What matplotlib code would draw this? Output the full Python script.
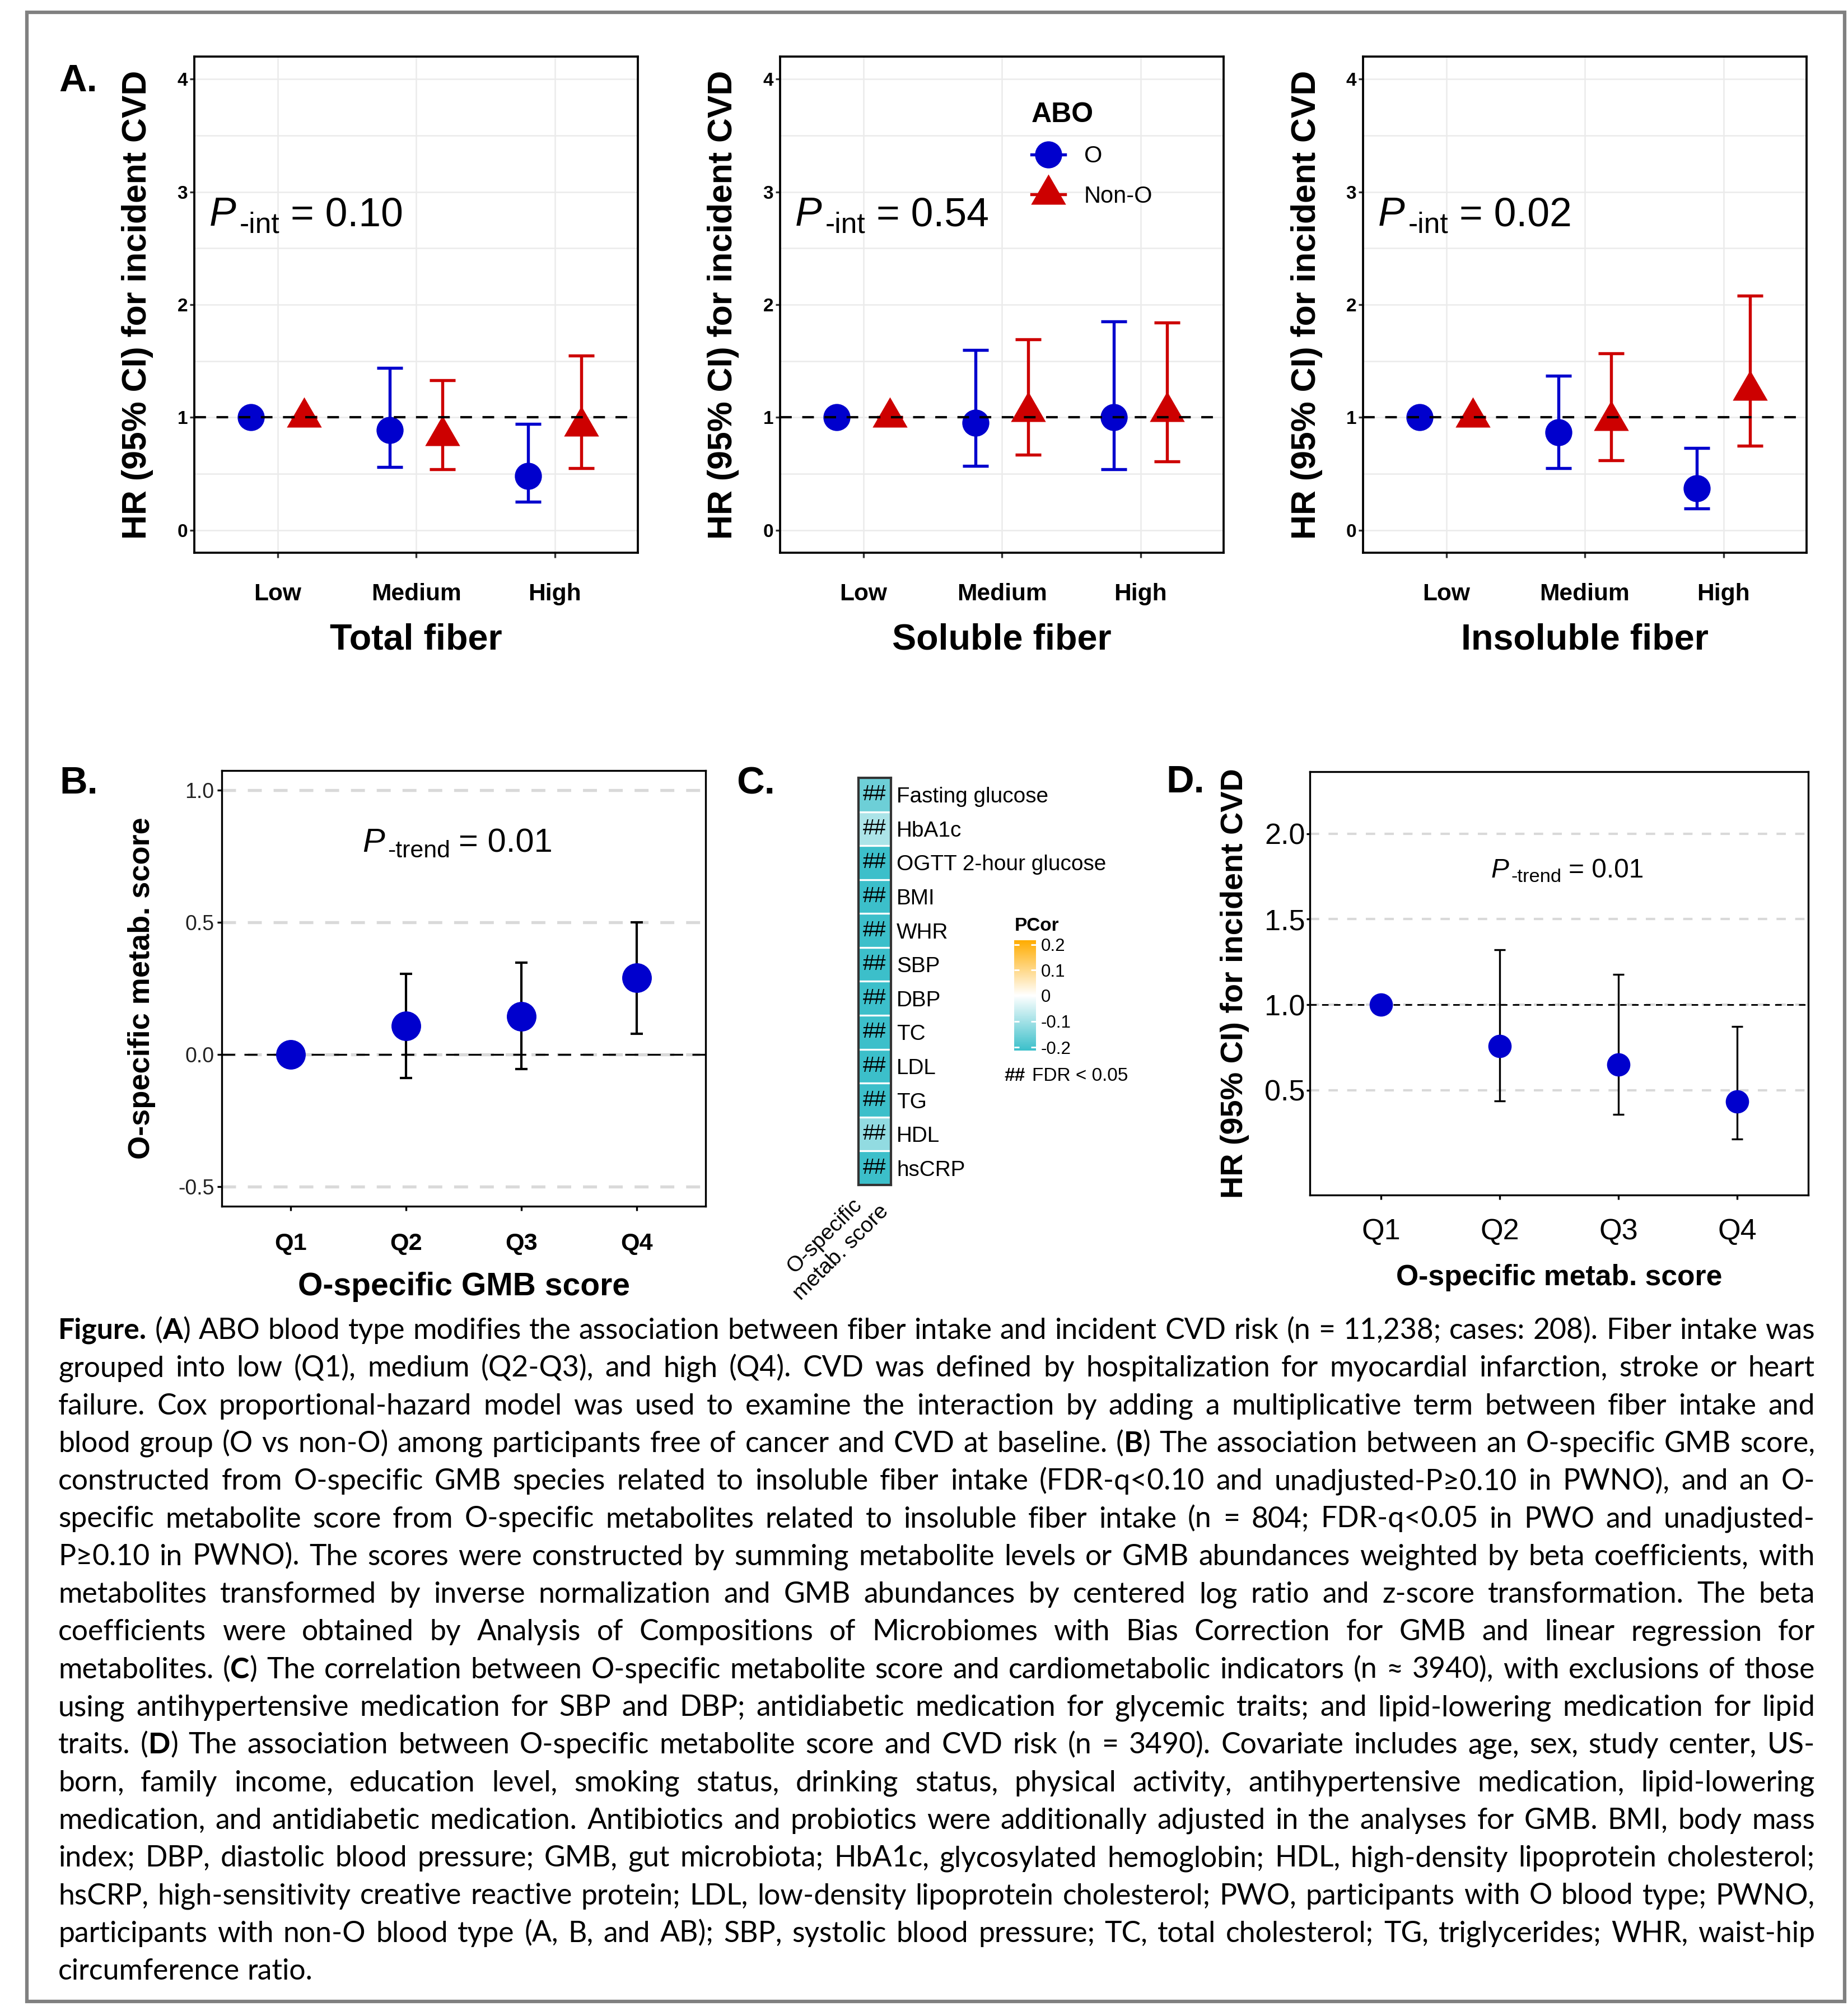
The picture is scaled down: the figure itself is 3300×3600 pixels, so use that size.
import numpy as np
import matplotlib
matplotlib.use('Agg')
import matplotlib.pyplot as plt
from matplotlib.lines import Line2D
from matplotlib.path import Path
from matplotlib.colors import LinearSegmentedColormap, TwoSlopeNorm
from matplotlib.transforms import ScaledTranslation
import matplotlib.patches as mpatches

# ---------------- data ----------------
fiber_levels = ['Low', 'Medium', 'High']
fiber_names = ['Total fiber', 'Soluble fiber', 'Insoluble fiber']
p_int = ['0.10', '0.54', '0.02']

# HR (lower, upper) for blood type O
total_O = [1.00, 0.89, 0.48]
total_O_lo = [1.00, 0.56, 0.25]
total_O_hi = [1.00, 1.44, 0.94]
soluble_O = [1.00, 0.95, 1.00]
soluble_O_lo = [1.00, 0.57, 0.54]
soluble_O_hi = [1.00, 1.60, 1.85]
insoluble_O = [1.00, 0.87, 0.37]
insoluble_O_lo = [1.00, 0.55, 0.19]
insoluble_O_hi = [1.00, 1.37, 0.73]

# HR (lower, upper) for non-O
total_N = [1.00, 0.84, 0.92]
total_N_lo = [1.00, 0.54, 0.55]
total_N_hi = [1.00, 1.33, 1.55]
soluble_N = [1.00, 1.05, 1.05]
soluble_N_lo = [1.00, 0.67, 0.61]
soluble_N_hi = [1.00, 1.69, 1.84]
insoluble_N = [1.00, 0.97, 1.24]
insoluble_N_lo = [1.00, 0.62, 0.75]
insoluble_N_hi = [1.00, 1.57, 2.08]

quartiles = ['Q1', 'Q2', 'Q3', 'Q4']
gmb_est = [0.0, 0.108, 0.144, 0.290]
gmb_lo = [0.0, -0.089, -0.056, 0.078]
gmb_hi = [0.0, 0.306, 0.347, 0.500]

metab_hr = [1.0, 0.758, 0.649, 0.435]
metab_lo = [1.0, 0.438, 0.360, 0.216]
metab_hi = [1.0, 1.320, 1.176, 0.872]

indicators = ['Fasting glucose', 'HbA1c', 'OGTT 2-hour glucose', 'BMI', 'WHR', 'SBP',
              'DBP', 'TC', 'LDL', 'TG', 'HDL', 'hsCRP']
pcor = [-0.157, -0.088, -0.21, -0.21, -0.21, -0.21, -0.21, -0.21, -0.21, -0.21, -0.117, -0.21]
pcor_ticks = [-0.2, -0.1, 0, 0.1, 0.2]
pcor_ticklabels = ['-0.2', '-0.1', '0', '0.1', '0.2']

caption_lines = [
    "*Figure.* (*A*) ABO blood type modifies the association between fiber intake and incident CVD risk (n = 11,238; cases: 208). Fiber intake was",
    "grouped into low (Q1), medium (Q2-Q3), and high (Q4). CVD was defined by hospitalization for myocardial infarction, stroke or heart",
    "failure. Cox proportional-hazard model was used to examine the interaction by adding a multiplicative term between fiber intake and",
    "blood group (O vs non-O) among participants free of cancer and CVD at baseline. (*B*) The association between an O-specific GMB score,",
    "constructed from O-specific GMB species related to insoluble fiber intake (FDR-q<0.10 and unadjusted-P\u22650.10 in PWNO), and an O-",
    "specific metabolite score from O-specific metabolites related to insoluble fiber intake (n = 804; FDR-q<0.05 in PWO and unadjusted-",
    "P\u22650.10 in PWNO). The scores were constructed by summing metabolite levels or GMB abundances weighted by beta coefficients, with",
    "metabolites transformed by inverse normalization and GMB abundances by centered log ratio and z-score transformation. The beta",
    "coefficients were obtained by Analysis of Compositions of Microbiomes with Bias Correction for GMB and linear regression for",
    "metabolites. (*C*) The correlation between O-specific metabolite score and cardiometabolic indicators (n \u2248 3940), with exclusions of those",
    "using antihypertensive medication for SBP and DBP; antidiabetic medication for glycemic traits; and lipid-lowering medication for lipid",
    "traits. (*D*) The association between O-specific metabolite score and CVD risk (n = 3490). Covariate includes age, sex, study center, US-",
    "born, family income, education level, smoking status, drinking status, physical activity, antihypertensive medication, lipid-lowering",
    "medication, and antidiabetic medication. Antibiotics and probiotics were additionally adjusted in the analyses for GMB. BMI, body mass",
    "index; DBP, diastolic blood pressure; GMB, gut microbiota; HbA1c, glycosylated hemoglobin; HDL, high-density lipoprotein cholesterol;",
    "hsCRP, high-sensitivity creative reactive protein; LDL, low-density lipoprotein cholesterol; PWO, participants with O blood type; PWNO,",
    "participants with non-O blood type (A, B, and AB); SBP, systolic blood pressure; TC, total cholesterol; TG, triglycerides; WHR, waist-hip",
    "circumference ratio.",
]

# ---------------- style ----------------
W, H, DPI = 3300, 3600, 300
BLUE = '#0000CD'
RED = '#CD0000'
plt.rcParams['font.family'] = ['Liberation Sans', 'DejaVu Sans']
CAP_FONT = ['Lato', 'DejaVu Sans']


def fy(y):
    return 1 - y / H


def rect(l, t, r, b):
    return [l / W, 1 - b / H, (r - l) / W, (b - t) / H]


# R style filled triangle (pch 17), centred on its centroid
tri = Path([(0, 1), (-0.866, -0.5), (0.866, -0.5), (0, 1)],
           [Path.MOVETO, Path.LINETO, Path.LINETO, Path.CLOSEPOLY])

fig = plt.figure(figsize=(W / DPI, H / DPI), dpi=DPI)
renderer = fig.canvas.get_renderer()


def p_label(ax, x, y, sub, val, size):
    # italic P, hyphenated subscript, then "= value"
    t = ax.text(x, y, 'P', fontsize=size, style='italic', ha='left', va='baseline',
                transform=ax.transAxes)
    w1 = t.get_window_extent(renderer).width * 72 / DPI
    x2 = w1 + 0.09 * size
    s = ax.annotate(sub, (x, y), xycoords='axes fraction', xytext=(x2, -0.17 * size),
                    textcoords='offset points', fontsize=0.72 * size, ha='left', va='baseline')
    w2 = s.get_window_extent(renderer).width * 72 / DPI
    ax.annotate('= ' + val, (x, y), xycoords='axes fraction', xytext=(x2 + w2 + 0.26 * size, 0),
                textcoords='offset points', fontsize=size, ha='left', va='baseline')


# outer frame
fig.add_artist(mpatches.Rectangle((48 / W, fy(3574)), (3294 - 48) / W, (3574 - 22) / H,
                                  transform=fig.transFigure, fill=False, ec='#808080', lw=1.5))

# ---------------- panel A ----------------
panelA = [
    (total_O, total_O_lo, total_O_hi, total_N, total_N_lo, total_N_hi),
    (soluble_O, soluble_O_lo, soluble_O_hi, soluble_N, soluble_N_lo, soluble_N_hi),
    (insoluble_O, insoluble_O_lo, insoluble_O_hi, insoluble_N, insoluble_N_lo, insoluble_N_hi),
]
a_lefts = [347, 1393, 2434]
a_width = 792
dodge = 0.19
axA = []
for k, (o, olo, ohi, n, nlo, nhi) in enumerate(panelA):
    l = a_lefts[k]
    ax = fig.add_axes(rect(l, 101, l + a_width, 987))
    x = np.arange(1, len(fiber_levels) + 1)
    ax.errorbar(x - dodge, o, yerr=[np.subtract(o, olo), np.subtract(ohi, o)], fmt='none',
                ecolor=BLUE, elinewidth=1.3, capsize=5.5, capthick=1.3, zorder=3)
    ax.errorbar(x + dodge, n, yerr=[np.subtract(n, nlo), np.subtract(nhi, n)], fmt='none',
                ecolor=RED, elinewidth=1.3, capsize=5.5, capthick=1.3, zorder=3)
    ax.plot(x - dodge, o, ls='none', marker='o', ms=11.6, color=BLUE, mec='none', zorder=4)
    ax.plot(x + dodge, n, ls='none', marker=tri, ms=17.3, color=RED, mec='none', zorder=4)
    ax.axhline(1, color='black', lw=1.0, ls=(0, (5, 4.5)), zorder=5)
    ax.set_xlim(0.4, 3.6)
    ax.set_ylim(-0.2, 4.2)
    ax.set_xticks(x)
    ax.set_xticklabels(fiber_levels, fontweight='bold', fontsize=10.2)
    ax.set_yticks([0, 1, 2, 3, 4])
    ax.set_yticklabels(['0', '1', '2', '3', '4'], fontweight='bold', fontsize=8)
    ax.set_yticks([0.5, 1.5, 2.5, 3.5], minor=True)
    ax.grid(which='both', color='#EBEBEB', lw=0.6)
    ax.set_axisbelow(True)
    ax.tick_params(which='minor', length=0)
    ax.tick_params(axis='x', length=2.2, width=0.8, color='#333333', pad=10.7)
    ax.tick_params(axis='y', length=2, width=0.8, color='#333333', pad=0.8)
    for s in ax.spines.values():
        s.set_linewidth(0.9)
    p_label(ax, 0.034, 0.659, '-int', p_int[k], 17.2)
    fig.text((l + a_width / 2) / W, fy(1143), fiber_names[k], fontsize=15.5,
             fontweight='bold', ha='center', va='center')
    fig.text((l - 101) / W, fy(544), 'HR (95% CI) for incident CVD', fontsize=14.6,
             fontweight='bold', rotation=90, ha='center', va='center')
    axA.append(ax)

handles = [Line2D([], [], color=BLUE, marker='o', ms=11.6, lw=1.3, mec='none'),
           Line2D([], [], color=RED, marker=tri, ms=17.3, lw=1.3, mec='none')]
axA[1].legend(handles, ['O', 'Non-O'], title='ABO', loc='upper left',
              bbox_to_anchor=(1842 / W, fy(182)), bbox_transform=fig.transFigure,
              frameon=False, fontsize=10, title_fontproperties={'weight': 'bold', 'size': 12},
              alignment='left', handlelength=1.45, handletextpad=0.8, labelspacing=0.75,
              borderpad=0, borderaxespad=0)

# ---------------- panel B ----------------
axB = fig.add_axes(rect(396, 1376, 1260, 2154))
xq = np.arange(1, len(quartiles) + 1)
axB.errorbar(xq, gmb_est, yerr=[np.subtract(gmb_est, gmb_lo), np.subtract(gmb_hi, gmb_est)],
             fmt='none', ecolor='black', elinewidth=1.0, capsize=2.6, capthick=1.0, zorder=3)
axB.plot(xq, gmb_est, ls='none', marker='o', ms=12.7, color=BLUE, mec='none', zorder=4)
axB.axhline(0, color='black', lw=0.8, ls=(0, (7, 5)), zorder=2)
axB.set_xlim(0.4, 4.6)
axB.set_ylim(-0.575, 1.075)
axB.set_xticks(xq)
axB.set_xticklabels(quartiles, fontweight='bold', fontsize=10.4)
axB.set_yticks([-0.5, 0.0, 0.5, 1.0])
axB.set_yticklabels(['-0.5', '0.0', '0.5', '1.0'], fontsize=9, color='#222222')
axB.grid(axis='y', color='#D9D9D9', lw=1.3, ls=(0, (4.6, 3.9)))
axB.set_axisbelow(True)
axB.tick_params(axis='x', length=2, width=0.8, pad=9.2)
axB.tick_params(axis='y', length=2, width=0.8, pad=1.2)
for s in axB.spines.values():
    s.set_linewidth(0.8)
p_label(axB, 0.2905, 0.8136, '-trend', '0.01', 14.3)
fig.text(828 / W, fy(2298), 'O-specific GMB score', fontsize=13.7, fontweight='bold',
         ha='center', va='center')
fig.text(253 / W, fy(1765), 'O-specific metab. score', fontsize=13, fontweight='bold',
         rotation=90, ha='center', va='center')

# ---------------- panel C ----------------
cmap = LinearSegmentedColormap.from_list('pcor', [(0, '#3BBFCA'), (0.5, '#FFFFFF'), (1, '#FFAC00')])
norm = TwoSlopeNorm(vcenter=0, vmin=-0.212, vmax=0.2175)
axC = fig.add_axes(rect(1533, 1389, 1591, 2116))
im = axC.imshow(np.array(pcor).reshape(-1, 1), cmap=cmap, norm=norm, aspect='auto')
for i in range(len(indicators) - 1):
    axC.axhline(i + 0.5, color='white', lw=0.8)
for i in range(len(indicators)):
    axC.text(0, i, '##', ha='center', va='center', fontsize=9, color='black')
axC.yaxis.tick_right()
axC.set_yticks(range(len(indicators)))
axC.set_yticklabels(indicators, fontsize=9.3)
axC.tick_params(axis='y', length=0, pad=2.4)
axC.set_xticks([])
axC.text(0.5, 0, 'O-specific\nmetab. score', fontsize=9.3, rotation=45, ha='right', va='top',
         rotation_mode='anchor', multialignment='center',
         transform=axC.transAxes + ScaledTranslation(-23 / DPI, 0, fig.dpi_scale_trans))
for s in axC.spines.values():
    s.set_color('#333333')
    s.set_linewidth(1.0)

cax = fig.add_axes(rect(1811, 1679, 1850, 1876))
cb = fig.colorbar(im, cax=cax, ticks=pcor_ticks)
cb.outline.set_visible(False)
cb.set_ticklabels(pcor_ticklabels)
cax.tick_params(direction='in', color='white', length=2.2, width=0.7, labelsize=7.5,
                left=True, right=True, labelleft=False, labelright=True, pad=2)
fig.text(1812 / W, fy(1654), 'PCor', fontsize=8, fontweight='bold', ha='left', va='center')
fig.text(1793 / W, fy(1922), '##', fontsize=8, fontweight='bold', ha='left', va='center')
fig.text(1843 / W, fy(1922), 'FDR < 0.05', fontsize=8, ha='left', va='center')

# ---------------- panel D ----------------
axD = fig.add_axes(rect(2339, 1378, 3229, 2134))
axD.errorbar(xq, metab_hr, yerr=[np.subtract(metab_hr, metab_lo), np.subtract(metab_hi, metab_hr)],
             fmt='none', ecolor='black', elinewidth=0.8, capsize=2.3, capthick=0.8, zorder=3)
axD.plot(xq, metab_hr, ls='none', marker='o', ms=10, color=BLUE, mec='none', zorder=4)
axD.axhline(1, color='black', lw=0.7, ls=(0, (4, 3.3)), zorder=2)
axD.set_xlim(0.4, 4.6)
axD.set_ylim(-0.1125, 2.3625)
axD.set_xticks(xq)
axD.set_xticklabels(quartiles, fontsize=12.5)
axD.set_yticks([0.5, 1.0, 1.5, 2.0])
axD.set_yticklabels(['0.5', '1.0', '1.5', '2.0'], fontsize=12.5)
axD.grid(axis='y', color='#D9D9D9', lw=1.0, ls=(0, (4, 4)))
axD.set_axisbelow(True)
axD.tick_params(axis='x', length=2, width=0.8, pad=7.8)
axD.tick_params(axis='y', length=1.5, width=0.8, pad=0.5)
for s in axD.spines.values():
    s.set_linewidth(0.8)
p_label(axD, 0.363, 0.7505, '-trend', '0.01', 11.5)
fig.text(2784 / W, fy(2281), 'O-specific metab. score', fontsize=12.4, fontweight='bold',
         ha='center', va='center')
fig.text(2205 / W, fy(1756), 'HR (95% CI) for incident CVD', fontsize=13.4, fontweight='bold',
         rotation=90, ha='center', va='center')

# panel letters
for lab, x, yb in [('A.', 105, 163), ('B.', 106, 1417), ('C.', 1315, 1417), ('D.', 2082, 1415)]:
    fig.text(x / W, fy(yb), lab, fontsize=16.5, fontweight='bold', ha='left', va='baseline')

# ---------------- caption (justified) ----------------


def parse_word(word):
    parts = word.split('*')
    return [(p, i % 2 == 1) for i, p in enumerate(parts) if p]


def seg_width(s, bold, size):
    t = fig.text(0, 0, s, fontsize=size, fontweight='bold' if bold else 'normal', family=CAP_FONT)
    w = t.get_window_extent(renderer).width
    t.remove()
    return w


cap_left, cap_right = 104, 3241
avail = cap_right - cap_left
ref_size = 11.0
words_all = [[parse_word(w) for w in line.split(' ')] for line in caption_lines]
space_ref = seg_width('a a', False, ref_size) - seg_width('aa', False, ref_size)
ratios = []
for words in words_all[:-1]:
    nat = sum(seg_width(s, b, ref_size) for w in words for s, b in w) + space_ref * (len(words) - 1)
    ratios.append(avail / nat)
cap_size = ref_size * min(ratios) * 0.995
space_w = space_ref * cap_size / ref_size

for k, words in enumerate(words_all):
    base = 2391 + 67.3 * k
    widths = [[seg_width(s, b, cap_size) for s, b in w] for w in words]
    total = sum(sum(ws) for ws in widths)
    if k < len(words_all) - 1:
        gap = (avail - total) / (len(words) - 1)
    else:
        gap = space_w
    x = cap_left
    for w, ws in zip(words, widths):
        for (s, b), sw in zip(w, ws):
            fig.text(x / W, fy(base), s, fontsize=cap_size, fontweight='bold' if b else 'normal',
                     family=CAP_FONT, ha='left', va='baseline')
            x += sw
        x += gap

fig.savefig('out.png', dpi=DPI)
